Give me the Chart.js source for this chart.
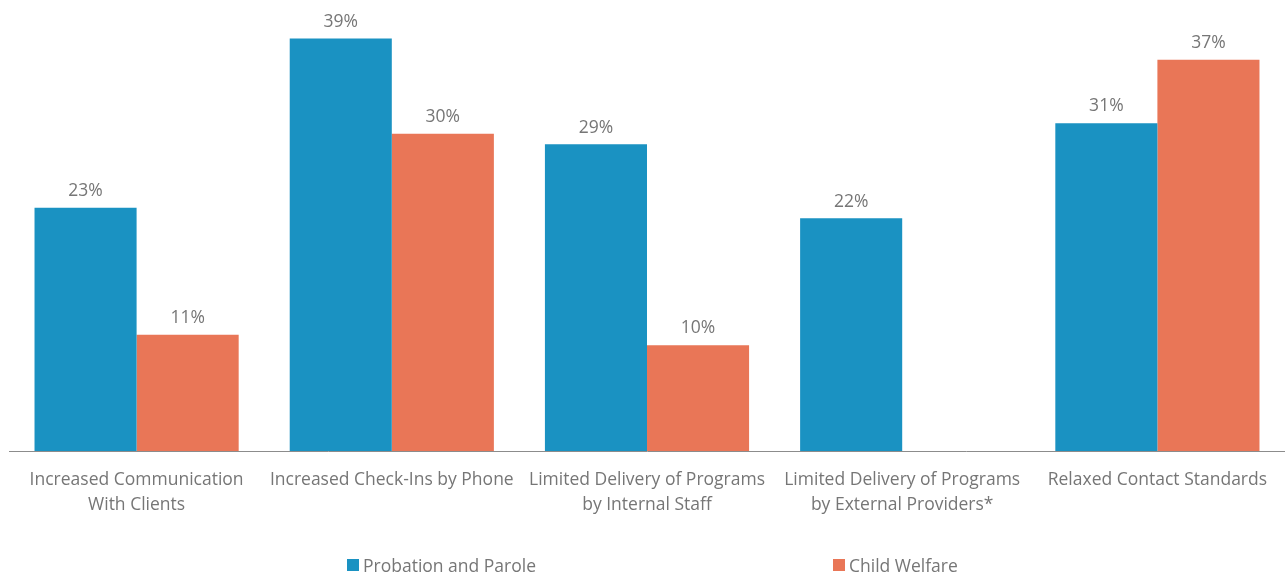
<!DOCTYPE html>
<html>
<head>
<meta charset="utf-8">
<script src="https://cdn.jsdelivr.net/npm/chart.js@4/dist/chart.umd.min.js"></script>
<style>
  html, body { margin: 0; padding: 0; background: #fff; }
  .wrap { position: relative; width: 1285px; height: 576px; }
  #legend {
    position: absolute; left: 347px; right: 0; top: 553px;
    display: flex; gap: 297px;
    font-family: "Open Sans", sans-serif; font-size: 17.5px; color: #767676;
  }
  #legend span.item { display: flex; align-items: center; }
  #legend i { display: inline-block; width: 12px; height: 12px; margin-right: 4px; }
</style>
</head>
<body>
<div class="wrap">
  <canvas id="chart" width="1285" height="576"></canvas>
  <div id="legend"></div>
</div>
<script>
const categories = [
    ["Increased Communication", "With Clients"],
    "Increased Check-Ins by Phone",
    ["Limited Delivery of Programs", "by Internal Staff"],
    ["Limited Delivery of Programs", "by External Providers*"],
    "Relaxed Contact Standards"
];
const probation = [23, 39, 29, 22, 31];
const childWelfare = [11, 30, 10, null, 37];

const blue = "#1a92c2";
const orange = "#e97657";
const textGray = "#767676";
const fontFamily = "'Open Sans', sans-serif";

// value labels above each bar
const barLabels = {
    id: "barLabels",
    afterDatasetsDraw(chart) {
        const ctx = chart.ctx;
        ctx.save();
        ctx.font = "17.5px " + fontFamily;
        ctx.fillStyle = textGray;
        ctx.textAlign = "center";
        ctx.textBaseline = "bottom";
        chart.data.datasets.forEach((ds, i) => {
            chart.getDatasetMeta(i).data.forEach((bar, j) => {
                const v = ds.data[j];
                if (v === null) return;
                ctx.fillText(v + "%", bar.x, bar.y - 8);
            });
        });
        ctx.restore();
    }
};

const chart = new Chart(document.querySelector("#chart").getContext("2d"), {
    type: "bar",
    data: {
        labels: categories,
        datasets: [
            { label: "Probation and Parole", data: probation, backgroundColor: blue },
            { label: "Child Welfare", data: childWelfare, backgroundColor: orange }
        ]
    },
    options: {
        responsive: false,
        animation: false,
        categoryPercentage: 0.8,
        barPercentage: 1.0,
        layout: { padding: { top: 28, left: 9, right: 0, bottom: 50 } },
        plugins: {
            legend: { display: false },
            tooltip: { enabled: false }
        },
        scales: {
            x: {
                grid: { display: false },
                border: { display: true, color: "#8c8c8c", width: 1 },
                ticks: {
                    color: textGray,
                    padding: 9,
                    maxRotation: 0,
                    autoSkip: false,
                    font: { family: fontFamily, size: 17.5, lineHeight: 1.4 }
                }
            },
            y: {
                display: false,
                min: 0,
                max: 40
            }
        }
    },
    plugins: [barLabels]
});

// legend
const legend = document.querySelector("#legend");
chart.data.datasets.forEach(ds => {
    const item = document.createElement("span");
    item.className = "item";
    item.innerHTML = '<i style="background:' + ds.backgroundColor + '"></i>' + ds.label;
    legend.appendChild(item);
});
</script>
</body>
</html>
